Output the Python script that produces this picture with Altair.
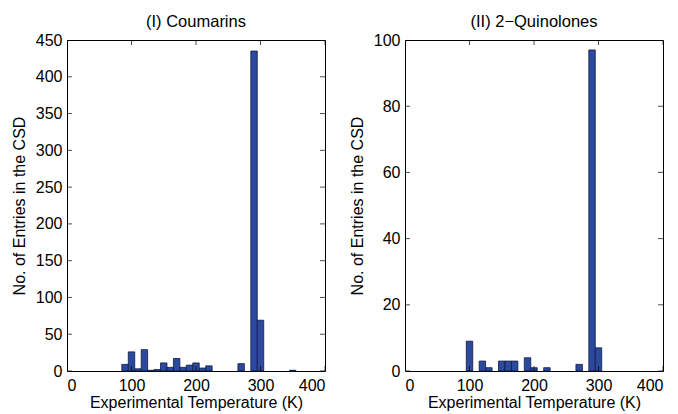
import altair as alt
import pandas as pd

# Data (bin centres in K, counts), bins are 10 K wide
coum_temp = [90, 100, 110, 120, 130, 140, 150, 160, 170, 180, 190, 200, 210, 220, 270, 290, 300, 350]
coum_count = [9, 26, 3, 29, 1, 2, 11, 5, 17, 5, 8, 11, 4, 7, 10, 435, 69, 1]
quin_temp = [100, 120, 130, 150, 160, 170, 190, 200, 220, 270, 290, 300]
quin_count = [9, 3, 1, 3, 3, 3, 4, 1, 1, 2, 97, 7]
x_ticks = [0, 100, 200, 300, 400]
coum_yticks = [0, 50, 100, 150, 200, 250, 300, 350, 400, 450]
quin_yticks = [0, 20, 40, 60, 80, 100]

FONT = "Liberation Sans"
XT = "Experimental Temperature (K)"
YT = "No. of Entries in the CSD"


def panel(temps, counts, yticks, ymax, title):
    df = pd.DataFrame({"t": temps, "n": counts})
    xs = alt.Scale(domain=[0, 400], nice=False, zero=False)
    ys = alt.Scale(domain=[0, ymax], nice=False)
    xax = alt.Axis(values=x_ticks, title=XT, labelOverlap=False)
    yax = alt.Axis(values=yticks, title=YT, labelOverlap=False)
    bars = (
        alt.Chart(df)
        .transform_calculate(x0="datum.t - 5", x1="datum.t + 5")
        .mark_bar(fill="#2b4a9f", stroke="#101a40", strokeWidth=0.8)
        .encode(
            x=alt.X("x0:Q", scale=xs, axis=xax),
            x2="x1:Q",
            y=alt.Y("n:Q", scale=ys, axis=yax),
            y2=alt.datum(0),
        )
    )
    xt = pd.DataFrame({"v": x_ticks})
    yt = pd.DataFrame({"v": yticks})
    tk = dict(size=10, clip=True, color="black", thickness=1)
    bottom = alt.Chart(xt).mark_tick(orient="vertical", **tk).encode(
        x=alt.X("v:Q", scale=xs, axis=xax), y=alt.Y(datum=0, scale=ys, axis=yax))
    top = alt.Chart(xt).mark_tick(orient="vertical", **tk).encode(
        x=alt.X("v:Q", scale=xs, axis=xax), y=alt.Y(datum=ymax, scale=ys, axis=yax))
    left = alt.Chart(yt).mark_tick(orient="horizontal", **tk).encode(
        y=alt.Y("v:Q", scale=ys, axis=yax), x=alt.X(datum=0, scale=xs, axis=xax))
    right = alt.Chart(yt).mark_tick(orient="horizontal", **tk).encode(
        y=alt.Y("v:Q", scale=ys, axis=yax), x=alt.X(datum=400, scale=xs, axis=xax))
    return alt.layer(bars, bottom, top, left, right).properties(
        width=258, height=331,
        title=alt.TitleParams(title, fontSize=16.5, fontWeight="normal", font=FONT, offset=2, color="black"),
    )


chart = (
    alt.hconcat(
        panel(coum_temp, coum_count, coum_yticks, 450, "(I) Coumarins"),
        panel(quin_temp, quin_count, quin_yticks, 100, "(II) 2\u2212Quinolones"),
        spacing=22,
    )
    .properties(padding={"left": 2, "right": 5, "top": 5, "bottom": 0})
    .configure_view(stroke="black", strokeWidth=1)
    .configure_axis(
        ticks=False, domain=False, grid=False, labelOverlap=False,
        labelFont=FONT, labelFontSize=16, labelColor="black", labelPadding=4,
        titleFont=FONT, titleFontSize=16, titleFontWeight="normal", titleColor="black",
    )
    .configure_axisY(titlePadding=8, labelPadding=5)
    .configure_axisX(titlePadding=1, labelPadding=6)
)

chart.save("out.html", embed_options={"renderer": "svg", "actions": False})
